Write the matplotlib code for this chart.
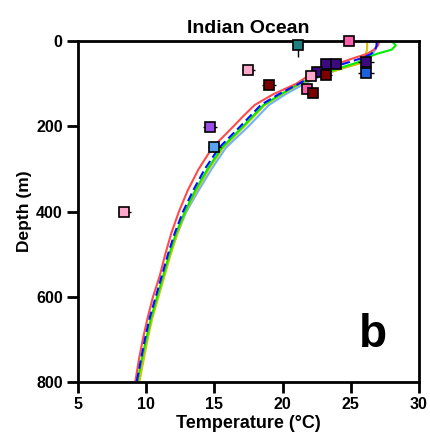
import matplotlib.pyplot as plt

plt.rcParams['font.family'] = ['Liberation Sans', 'DejaVu Sans']
plt.rcParams['font.weight'] = 'bold'

# model profiles (depth in m, temperature in degC)
depth = [0, 10, 20, 30, 40, 50, 60, 75, 100, 125, 150, 175, 200, 250, 300, 350, 400, 450, 500, 550, 600, 650, 700, 750, 800]
t_red = [27.1, 27.0, 26.7, 26.2, 25.2, 24.3, 23.1, 22.2, 21.0, 19.3, 17.95, 17.15, 16.4, 14.85, 13.85, 13.05, 12.4, 11.85, 11.4, 11.0, 10.5, 10.1, 9.75, 9.45, 9.2]
t_blue = [26.9, 26.9, 26.8, 26.5, 25.8, 24.8, 23.8, 22.6, 21.2, 19.7, 18.4, 17.65, 16.9, 15.35, 14.3, 13.45, 12.7, 12.1, 11.6, 11.15, 10.7, 10.25, 9.9, 9.6, 9.3]
t_green = [28.0, 28.3, 28.0, 26.9, 26.1, 25.5, 24.5, 23.0, 21.2, 19.85, 18.6, 17.85, 17.1, 15.55, 14.5, 13.6, 12.85, 12.2, 11.7, 11.25, 10.8, 10.35, 10.0, 9.65, 9.35]
t_lblue = [26.9, 26.9, 26.8, 26.6, 26.3, 25.8, 24.8, 23.3, 21.6, 20.2, 19.0, 18.25, 17.5, 15.85, 14.8, 13.85, 12.95, 12.3, 11.75, 11.3, 10.85, 10.4, 10.0, 9.7, 9.4]
t_yellow = [26.2, 26.2, 26.2, 26.1, 26.0, 25.9, 24.8, 23.3, 21.3, 19.95, 18.7, 17.95, 17.2, 15.65, 14.6, 13.7, 12.9, 12.3, 11.8, 11.35, 10.9, 10.45, 10.1, 9.8, 9.5]

# observations
obs_t = [21.1, 24.9, 17.5, 19.0, 23.2, 23.9, 22.5, 22.1, 23.2, 21.8, 22.2, 26.1, 26.1, 14.7, 15.0, 8.4]
obs_d = [9, 0, 68, 103, 54, 54, 73, 82, 80, 113, 122, 49, 75, 202, 249, 400]
obs_xerr = [0.4, 0.4, 0.5, 0.5, 0.4, 0.4, 0.4, 0.4, 0.4, 0.4, 0.4, 0.6, 0.6, 0.5, 0.5, 0.5]
obs_yerr = [28, 0, 0, 0, 0, 0, 0, 0, 0, 0, 0, 0, 0, 0, 0, 0]
obs_col = ['#1f7f7f', '#ff5fa8', '#ffa8cc', '#7a0000', '#3c0a80', '#3c0a80', '#3c0a80',
           '#ffa8cc', '#7a0000', '#ff5fa8', '#7a0000', '#3c0a80', '#1a60e0',
           '#9b4fe8', '#5aa2f2', '#ffa8cc']

fig = plt.figure(figsize=(4.31, 4.47), dpi=100)
ax = fig.add_axes([0.181, 0.1454, 0.791, 0.7626])

ax.plot(t_lblue, depth, color='#6fb0ff', lw=1.5)
ax.plot(t_yellow, depth, color='#d8c200', lw=1.5)
ax.plot(t_green, depth, color='#00ee00', lw=1.5)
ax.plot(t_red, depth, color='#ff4a4a', lw=1.5)
ax.plot(t_blue, depth, color='#0010ff', lw=1.5, ls=(0, (4, 2)))

for t, d, xe, ye, c in zip(obs_t, obs_d, obs_xerr, obs_yerr, obs_col):
    ax.errorbar(t, d, xerr=xe, yerr=[[0], [ye]], fmt='s', ms=7.5, mfc=c, mec='black',
                mew=1.2, ecolor='black', elinewidth=1, capsize=0, clip_on=False, zorder=5)

ax.set_xlim(5, 30)
ax.set_ylim(800, 0)
ax.set_xticks([5, 10, 15, 20, 25, 30])
ax.set_yticks([0, 200, 400, 600, 800])
for s in ax.spines.values():
    s.set_linewidth(2)
ax.tick_params(direction='out', length=8, width=2, labelsize=11.5, pad=3)

ax.set_xlabel('Temperature (°C)', fontsize=13, fontweight='bold', labelpad=2)
ax.set_ylabel('Depth (m)', fontsize=12.5, fontweight='bold', labelpad=3)
ax.set_title('Indian Ocean', fontsize=14, fontweight='bold', pad=6)
ax.text(26.6, 690, 'b', fontsize=33, fontweight='bold', ha='center', va='center')

fig.savefig('out.png', dpi=100)
